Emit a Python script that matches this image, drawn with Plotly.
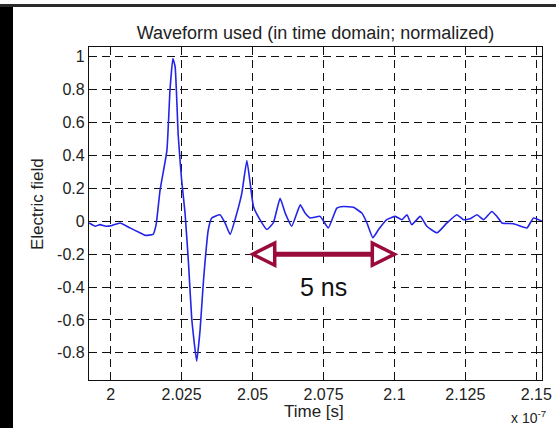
import plotly.graph_objects as go

# ---- data (time in units of 1e-7 s, normalized electric field) ----
time_e7 = [1.9924, 1.9945, 1.9962, 1.9983, 2.0005, 2.0033, 2.0068, 2.0103, 2.0121, 2.0149,
           2.0160, 2.0174, 2.0198, 2.0209, 2.0219, 2.0227, 2.0238, 2.0250, 2.0262, 2.0274,
           2.0286, 2.0303, 2.0315, 2.0327, 2.0344, 2.0356, 2.0385, 2.0403, 2.0421, 2.0438,
           2.0462, 2.0480, 2.0503, 2.0526, 2.0550, 2.0573, 2.0597, 2.0615, 2.0638, 2.0668,
           2.0685, 2.0703, 2.0738, 2.0767, 2.0797, 2.0820, 2.0855, 2.0885, 2.0903, 2.0924,
           2.0944, 2.0973, 2.1003, 2.1026, 2.1044, 2.1061, 2.1091, 2.1114, 2.1150, 2.1185,
           2.1220, 2.1243, 2.1267, 2.1291, 2.1314, 2.1343, 2.1361, 2.1379, 2.1420, 2.1467,
           2.1490, 2.1520]
field = [-0.01, -0.03, -0.02, -0.03, -0.025, -0.01, -0.04, -0.07, -0.085, -0.08,
         -0.02, 0.19, 0.43, 0.80, 0.99, 0.94, 0.52, 0.25, 0.05, -0.25,
         -0.60, -0.85, -0.66, -0.36, -0.05, 0.02, 0.04, -0.01, -0.08, 0.01,
         0.17, 0.37, 0.09, 0.01, -0.05, -0.01, 0.14, 0.05, -0.03, 0.10,
         0.05, 0.02, 0.03, -0.04, 0.08, 0.09, 0.085, 0.05, -0.01, -0.10,
         -0.05, 0.01, 0.03, 0.01, 0.04, -0.02, 0.03, -0.03, -0.07, -0.01,
         0.04, 0.01, 0.015, 0.04, 0.01, 0.06, 0.03, -0.01, -0.015, -0.04,
         0.02, 0.0]

x_ticks = [2.0, 2.025, 2.05, 2.075, 2.1, 2.125, 2.15]
x_tick_labels = ["2", "2.025", "2.05", "2.075", "2.1", "2.125", "2.15"]
y_ticks = [1.0, 0.8, 0.6, 0.4, 0.2, 0.0, -0.2, -0.4, -0.6, -0.8]
y_tick_labels = ["1", "0.8", "0.6", "0.4", "0.2", "0", "-0.2", "-0.4", "-0.6", "-0.8"]

x_range = [1.99235, 2.1520]
y_range = [-0.965, 1.06]

# 5 ns span marker
span_start, span_end, span_y = 2.05, 2.10, -0.2
span_label = "5 ns"

# ---- layout geometry ----
W, H = 556, 428
ML, MR, MT, MB = 89, 14, 47, 48
PW, PH = W - ML - MR, H - MT - MB

FONT = "Liberation Sans, Arial, sans-serif"
TXT = "#222222"
BLUE = "#2424e8"
RED = "#9a0a3a"

fig = go.Figure()
fig.add_trace(go.Scatter(x=time_e7, y=field, mode="lines",
                         line=dict(color=BLUE, width=1.6, shape="spline", smoothing=0.4),
                         showlegend=False, hoverinfo="skip"))

axis_common = dict(showline=True, linecolor="#111111", linewidth=1.2, mirror="ticks",
                   ticks="inside", ticklen=5, tickcolor="#111111", automargin=False,
                   showgrid=True, gridcolor="#111111", gridwidth=1.3, griddash="8px,5px",
                   zeroline=False, tickfont=dict(family=FONT, size=16, color=TXT))

fig.update_xaxes(range=x_range, tickvals=x_ticks, ticktext=x_tick_labels, **axis_common)
fig.update_yaxes(range=y_range, tickvals=y_ticks, ticktext=y_tick_labels, **axis_common)

def px2paper_x(px):
    return (px - ML) / PW

def px2paper_y(py):
    return (H - MB - py) / PH

shapes = []
# white box behind the "5 ns" label
shapes.append(dict(type="rect", xref="x", yref="y", x0=2.0498, x1=2.0993, y0=-0.51, y1=-0.266,
                   fillcolor="white", line=dict(width=0), layer="above"))
head_len = 0.0078
head_half = 0.067
shapes.append(dict(type="line", xref="x", yref="y", x0=span_start + head_len, x1=span_end - head_len,
                   y0=span_y, y1=span_y, line=dict(color=RED, width=5), layer="above"))
for tip, base in [(span_start, span_start + head_len), (span_end, span_end - head_len)]:
    shapes.append(dict(type="path", xref="x", yref="y",
                       path=f"M {tip} {span_y} L {base} {span_y + head_half} L {base} {span_y - head_half} Z",
                       fillcolor="white", line=dict(color=RED, width=3.5), layer="above"))
# outer frame (black bar left, dark line at top)
shapes.append(dict(type="rect", xref="paper", yref="paper",
                   x0=px2paper_x(-2), x1=px2paper_x(13), y0=px2paper_y(H + 2), y1=px2paper_y(6),
                   fillcolor="black", line=dict(width=0), layer="above"))
shapes.append(dict(type="rect", xref="paper", yref="paper",
                   x0=px2paper_x(-2), x1=px2paper_x(W + 2), y0=px2paper_y(7), y1=px2paper_y(4),
                   fillcolor="#2a2a2a", line=dict(width=0), layer="above"))

annotations = [
    dict(text=span_label, x=(span_start + span_end) / 2, y=-0.4, xref="x", yref="y",
         showarrow=False, font=dict(family=FONT, size=25, color="#111111")),
    dict(text="x 10<sup>-7</sup>", x=px2paper_x(528), y=px2paper_y(417), xref="paper", yref="paper",
         xanchor="center", yanchor="middle",
         showarrow=False, font=dict(family=FONT, size=14, color=TXT)),
    dict(text="Time [s]", x=px2paper_x(314), y=px2paper_y(411), xref="paper", yref="paper",
         xanchor="center", yanchor="middle",
         showarrow=False, font=dict(family=FONT, size=17, color=TXT)),
    dict(text="Electric field", x=px2paper_x(37), y=px2paper_y(204), xref="paper", yref="paper",
         xanchor="center", yanchor="middle", textangle=-90,
         showarrow=False, font=dict(family=FONT, size=17, color=TXT)),
]

fig.update_layout(
    width=W, height=H,
    margin=dict(l=ML, r=MR, t=MT, b=MB, pad=0),
    paper_bgcolor="white", plot_bgcolor="white",
    title=dict(text="Waveform used (in time domain; normalized)", x=(ML + PW / 2) / W,
               xanchor="center", y=1 - 33 / H, yanchor="middle",
               font=dict(family=FONT, size=18, color=TXT)),
    shapes=shapes, annotations=annotations,
)

fig.write_html("out.html", config={"displayModeBar": False},
               post_script="document.body.style.margin='0';")
